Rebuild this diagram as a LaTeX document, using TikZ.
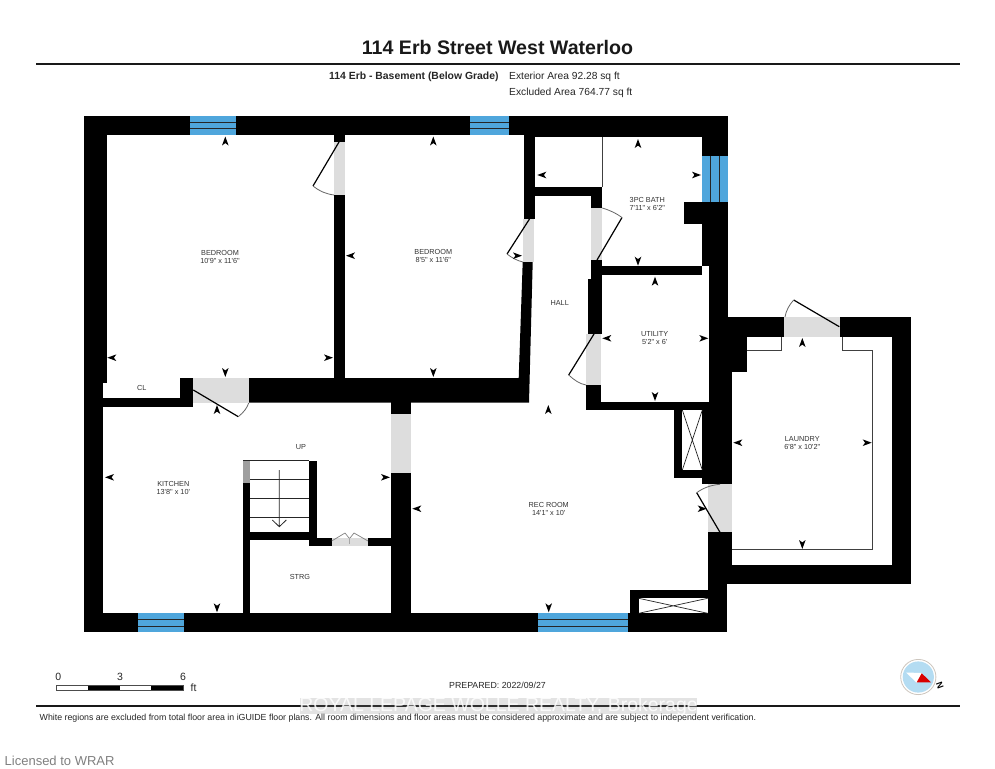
\documentclass[tikz,border=0pt]{standalone}
\usepackage{fontspec}
\setmainfont{Liberation Sans}
\newfontfamily\labfont{Liberation Sans}
\definecolor{win}{HTML}{4FA6DC}
\definecolor{doorgrey}{HTML}{DDDDDD}
\definecolor{labgrey}{HTML}{333333}
\definecolor{compassblue}{HTML}{B4DCF2}
\newcommand{\amk}[3]{\fill[black,shift={(#1,#2)},rotate=#3] (0,0)--(-9,3.3)--(-6.6,0)--(-9,-3.3)--cycle;}
\newcommand{\wallr}[4]{\fill[black] (#1,#2) rectangle (#3,#4);}
\newcommand{\doorr}[4]{\fill[doorgrey] (#1,#2) rectangle (#3,#4);}
\tikzset{
  room/.style={font=\labfont\fontsize{7.3}{8}\selectfont,text=labgrey,align=center,inner sep=0pt},
  leaf/.style={draw=black,line width=1.2pt},
  swing/.style={draw=black!60,line width=.8pt},
  thinwall/.style={draw=black!75,line width=1pt},
  winline/.style={draw=black!85,line width=.8pt},
  plain/.style={font=\labfont\fontsize{10.25}{12}\selectfont,inner sep=0pt,anchor=west,text=black!85},
  rule/.style={draw=black!90,line width=1.7pt},
  scalebox/.style={draw=black!70,line width=.5pt}
}
\begin{document}
\begin{tikzpicture}[x=1pt,y=-1pt]
\useasboundingbox (0,0) rectangle (995,768);
\fill[white] (0,0) rectangle (995,768);
% outer walls
\wallr{84}{116}{107}{383}
\wallr{84}{383}{103.3}{632.3}
\wallr{84}{116}{727.7}{135}
\wallr{535}{135}{727.7}{137.3}
\wallr{84}{613.3}{727}{632.3}
\wallr{702.3}{137}{727.7}{266}
\wallr{709.3}{266}{727.7}{372}
\wallr{684}{201.7}{702.3}{224.3}
% laundry walls
\wallr{727}{317}{784.3}{336.7}
\wallr{727}{336.7}{746.7}{372.3}
\wallr{709.3}{372}{732.3}{484.3}
\wallr{840}{317}{911.3}{336.7}
\wallr{892.3}{317}{911.3}{584}
\wallr{708}{565.3}{911.3}{584}
\wallr{708}{532.3}{732.3}{584}
\wallr{708}{584}{727}{632.3}
% bedrooms
\wallr{334}{135}{345}{142}
\wallr{334}{195}{345}{378}
\fill[black] (249,378)--(518.7,378)--(522.7,262)--(532.7,262)--(529,402.5)--(249,402.5)--cycle;
\wallr{524.3}{135}{535}{219}
% closet wall
\wallr{180}{378}{193.3}{406.7}
\wallr{84}{398.3}{188}{406.7}
% hall and bath walls
\wallr{535}{187.3}{602.3}{196}
\wallr{591.3}{187.3}{602.3}{208}
\wallr{591.3}{260}{602.3}{279}
\wallr{587.7}{279}{602.3}{334}
\wallr{602}{266}{702.3}{274.7}
\wallr{586}{385}{600.7}{410}
\wallr{586}{401.7}{709.3}{410}
% shaft near rec room
\wallr{674.3}{410}{709.3}{478}
\fill[white] (682.3,410) rectangle (702.3,470);
\wallr{702}{470}{732.3}{484.3}
\wallr{630.3}{590}{708}{613.3}
\fill[white] (638.7,598.3) rectangle (707.7,613.3);
% kitchen and stairs
\wallr{390.7}{402}{410.7}{414}
\wallr{390.7}{472.7}{410.7}{613.3}
\wallr{243.3}{483.3}{250}{613.3}
\wallr{309}{460.7}{317}{546}
\wallr{250}{532}{317}{540}
\wallr{309}{537.7}{331.7}{546}
\wallr{368}{537.7}{391}{546}
% door openings
\doorr{334}{142}{345}{195}
\doorr{193.3}{378}{248.7}{403}
\doorr{523}{219}{534}{262}
\doorr{591.3}{208}{602.3}{260}
\doorr{586}{334}{600.7}{385}
\doorr{784.3}{317}{840}{336.7}
\doorr{708}{484.3}{732.3}{532.3}
\doorr{390.7}{414}{410.7}{472.7}
\doorr{331.7}{537.7}{368}{546}
% door leaves
\draw[leaf] (339,142)--(313,186);
\draw[swing] (313,186) .. controls (319,191) and (326,194) .. (334,195);
\draw[leaf] (193.3,390)--(238.3,416.7);
\draw[swing] (238.3,416.7) .. controls (244,412) and (247,408) .. (248.7,403);
\draw[leaf] (529.5,219)--(507,254);
\draw[swing] (507,254) .. controls (512,258) and (518,261) .. (523,262);
\draw[leaf] (597,260)--(622,217.5);
\draw[swing] (622,217.5) .. controls (616,213) and (609,210) .. (602.3,208);
\draw[leaf] (594,334)--(568.7,375);
\draw[swing] (568.7,375) .. controls (574,380) and (580,384) .. (586,385);
\draw[leaf] (839.3,326.7)--(793.7,300);
\draw[swing] (793.7,300) .. controls (789,305) and (786,311) .. (785,317);
\draw[leaf] (720,532.3)--(696.7,492.7);
\draw[swing] (696.7,492.7) .. controls (703,488) and (711,485) .. (720,484.3);
% bifold
\draw[draw=black!50,line width=.7pt] (331.7,541)--(345,533)--(349,538) (368,541)--(354,533)--(350,538);
\draw[draw=black!35,line width=.5pt] (349.7,538)--(349.7,544);
% windows
\fill[win] (190,116) rectangle (236,135);
\draw[winline] (190,122.3)--(236,122.3) (190,128.5)--(236,128.5);
\fill[win] (470,116) rectangle (509,135);
\draw[winline] (470,122.3)--(509,122.3) (470,128.5)--(509,128.5);
\fill[win] (702.3,156) rectangle (727.7,201.7);
\draw[winline] (710.5,156)--(710.5,201.7) (719,156)--(719,201.7);
\fill[win] (138,613.3) rectangle (184.3,632.3);
\draw[winline] (138,619.5)--(184.3,619.5) (138,626)--(184.3,626);
\fill[win] (538.3,613.3) rectangle (627.7,632.3);
\draw[winline] (538.3,619.5)--(627.7,619.5) (538.3,626)--(627.7,626);
% thin walls
\draw[thinwall] (602.3,137)--(602.3,187.3);
\draw[thinwall] (746.7,350)--(781,350)--(781,336.7);
\draw[thinwall] (842.7,336.7)--(842.7,350)--(872.3,350)--(872.3,549.3)--(732.3,549.3);
% shaft crosses
\draw[draw=black!85,line width=.7pt] (682.3,410)--(702.3,470) (702.3,410)--(682.3,470);
\draw[draw=black!85,line width=.7pt] (638.7,598.3)--(707.7,613.3) (707.7,598.3)--(638.7,613.3);
% stairs
\fill[gray!75] (243.3,460.7) rectangle (250,483.3);
\draw[draw=black!85,line width=.8pt] (243.3,460.7)--(309,460.7);
\draw[draw=black!85,line width=.8pt] (250,479.7)--(309,479.7) (250,498.3)--(309,498.3) (250,517)--(309,517);
\draw[draw=black!85,line width=.8pt] (279.3,470)--(279.3,526.7) (272.3,520)--(279.3,526.7)--(286.3,520);
% dimension marks
\amk{225.3}{136.5}{90}\amk{107.3}{357.7}{180}\amk{333}{357.7}{0}\amk{225.3}{377}{270}
\amk{433.3}{136.5}{90}\amk{346}{255.7}{180}\amk{433.3}{377}{270}\amk{522}{255.7}{0}
\amk{537.3}{175}{180}
\amk{638}{139}{90}\amk{701}{175}{0}\amk{638}{265.7}{270}
\amk{655}{276.7}{90}\amk{602.3}{338.3}{180}\amk{708.3}{338.3}{0}\amk{655}{401}{270}
\amk{548.3}{405}{90}
\amk{802.3}{338}{90}\amk{733.3}{442.7}{180}\amk{871.7}{442.7}{0}\amk{802.3}{549}{270}
\amk{706.7}{508.7}{0}\amk{548.7}{612.3}{270}\amk{412.3}{508.7}{180}
\amk{105}{477.3}{180}\amk{390}{477.3}{0}\amk{217}{405}{90}\amk{217}{612.3}{270}
% room labels
\node[room] (bedone) at (220,256.5) {BEDROOM\\10'9" x 11'6"};
\node[room] (bedtwo) at (433.3,256) {BEDROOM\\8'5" x 11'6"};
\node[room] (cl) at (141.7,388.3) {CL};
\node[room] (bath) at (647.3,204) {3PC BATH\\7'11" x 6'2"};
\node[room] (utility) at (654.7,338.3) {UTILITY\\5'2" x 6'};
\node[room] (hall) at (559.7,302.7) {HALL};
\node[room] (kitchen) at (173.3,488.3) {KITCHEN\\13'8" x 10'};
\node[room] (up) at (301,446.7) {UP};
\node[room] (strg) at (300,577) {STRG};
\node[room] (laundry) at (802.3,443) {LAUNDRY\\6'8" x 10'2"};
\node[room] (rec) at (548.7,508.7) {REC ROOM\\14'1" x 10'};
% header
\node[inner sep=0pt,font=\labfont\bfseries\fontsize{19.6}{22}\selectfont,text=black!90] (title) at (497.5,47) {114 Erb Street West Waterloo};
\coordinate (rtl) at (36,64.3);\coordinate (rtr) at (960,64.3);
\draw[rule] (rtl)--(rtr);
\node[plain,font=\labfont\bfseries\fontsize{10.4}{12}\selectfont] (sub) at (329,77) {114 Erb - Basement (Below Grade)};
\node[plain] (ext) at (509,76.7) {Exterior Area 92.28 sq ft};
\node[plain] (excl) at (509,92.7) {Excluded Area 764.77 sq ft};
% scale bar
\fill[white] (56,685) rectangle (183.3,690.3);
\fill[black] (87.5,685) rectangle (120,690.3);
\fill[black] (151,685) rectangle (183.3,690.3);
\draw[scalebox] (56,685) rectangle (183.3,690.3);
\node[plain,anchor=center,font=\labfont\fontsize{10.5}{12}\selectfont] (szero) at (58.3,677) {0};
\node[plain,anchor=center,font=\labfont\fontsize{10.5}{12}\selectfont] (sthree) at (120,677) {3};
\node[plain,anchor=center,font=\labfont\fontsize{10.5}{12}\selectfont] (ssix) at (183,677) {6};
\node[plain,anchor=center,font=\labfont\fontsize{10.5}{12}\selectfont] (sft) at (193.5,687.5) {ft};
\node[plain,anchor=center,font=\labfont\fontsize{8.8}{11}\selectfont] (prep) at (497.5,685) {PREPARED: 2022/09/27};
% compass
\fill[white] (918.3,677) circle (18);
\draw[draw=brown!25!gray!45,line width=.8pt] (918.3,677) circle (17.6);
\fill[compassblue] (918.3,677) circle (15.6);
\fill[white] (906,672.5)--(922,673)--(917,683)--cycle;
\fill[red!85!black] (921.7,673.3)--(931,682.3)--(916.7,682.3)--cycle;
\node[font=\labfont\bfseries\fontsize{9}{10}\selectfont,rotate=-70,inner sep=0pt] (north) at (940,685.7) {N};
% footer
\coordinate (rbl) at (36,705.7);\coordinate (rbr) at (960,705.7);
\draw[rule] (rbl)--(rbr);
\fill[gray,opacity=.22] (300,698) rectangle (697,714);
\node[inner sep=0pt,font=\labfont\fontsize{19.5}{22}\selectfont,text=white,opacity=.85] (mark) at (498.5,706.5) {ROYAL LEPAGE WOLLE REALTY, Brokerage};
\node[plain,font=\labfont\fontsize{8.8}{10}\selectfont] (foot) at (39.5,718) {White regions are excluded from total floor area in iGUIDE floor plans. All room dimensions and floor areas must be considered approximate and are subject to independent verification.};
\node[plain,font=\labfont\fontsize{13}{15}\selectfont,text=black!50] (lic) at (4.5,760.5) {Licensed to WRAR};
\end{tikzpicture}
\end{document}
